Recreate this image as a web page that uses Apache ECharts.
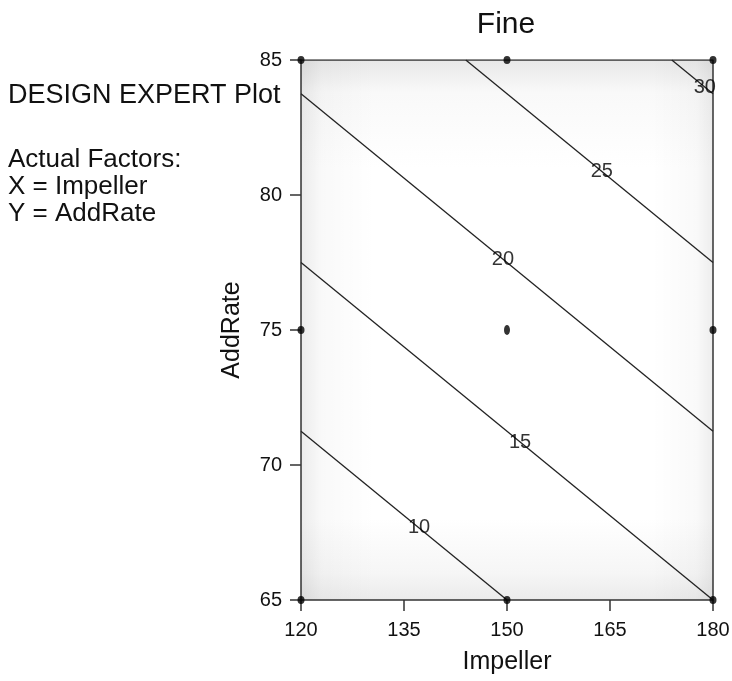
<!DOCTYPE html>
<html>
<head>
<meta charset="utf-8">
<script src="https://cdn.jsdelivr.net/npm/echarts@6/dist/echarts.min.js"></script>
<style>
  html, body { margin: 0; padding: 0; background: #ffffff; }
  #chart { width: 732px; height: 681px; }
</style>
</head>
<body>
<div id="chart"></div>
<script>
// Design points (Impeller, AddRate)
const designImpeller = [120, 150, 180, 120, 150, 180, 120, 150, 180];
const designAddRate  = [85, 85, 85, 75, 75, 75, 65, 65, 65];

// Contour levels of the "Fine" response and where each line meets the plot frame
const contourLevels = [10, 15, 20, 25, 30];
const contourStart  = [[120, 71.25], [120, 77.5], [120, 83.75], [144, 85], [174, 85]];
const contourEnd    = [[150, 65], [180, 65], [180, 71.25], [180, 77.5], [180, 83.75]];
// Label anchor on each contour line
const labelAt       = [[137.2, 67.67], [151.9, 70.85], [149.4, 77.62], [163.8, 80.87], [178.8, 84.0]];

const xTicks = [120, 135, 150, 165, 180];
const yTicks = [65, 70, 75, 80, 85];

const FONT = '"Liberation Sans", Arial, Helvetica, sans-serif';
const INK = '#111111';
const FRAME = '#333333';

const chart = echarts.init(document.getElementById('chart'), null, { renderer: 'canvas' });

const contourSeries = contourLevels.map((lvl, i) => ({
  type: 'line',
  name: 'Fine ' + lvl,
  data: [contourStart[i], contourEnd[i]],
  symbol: 'none',
  lineStyle: { color: '#222', width: 1.3 },
  silent: true,
  z: 3
}));

const option = {
  animation: false,
  backgroundColor: '#ffffff',
  grid: {
    left: 301, right: 19, top: 60, bottom: 81,
    containLabel: false,
    outerBoundsMode: 'none',
    show: true,
    borderWidth: 0,
    // soft shading toward the top and bottom edges
    backgroundColor: {
      type: 'linear', x: 0, y: 0, x2: 0, y2: 1,
      colorStops: [
        { offset: 0, color: '#e8e8e8' },
        { offset: 0.06, color: '#f9f9f9' },
        { offset: 0.2, color: '#ffffff' },
        { offset: 0.85, color: '#ffffff' },
        { offset: 0.95, color: '#f6f6f6' },
        { offset: 1, color: '#ebebeb' }
      ]
    }
  },
  xAxis: {
    type: 'value', min: xTicks[0], max: xTicks[xTicks.length - 1], interval: 15,
    name: 'Impeller', nameLocation: 'middle', nameGap: 50,
    nameTextStyle: { fontFamily: FONT, fontSize: 25, color: INK },
    axisLine: { show: true, onZero: false, lineStyle: { color: FRAME, width: 1.5 } },
    axisTick: { show: true, length: 11, lineStyle: { color: FRAME, width: 1.5 } },
    axisLabel: { fontFamily: FONT, fontSize: 20, color: INK, margin: 20 },
    splitLine: { show: false }
  },
  yAxis: {
    type: 'value', min: yTicks[0], max: yTicks[yTicks.length - 1], interval: 5,
    name: 'AddRate', nameLocation: 'middle', nameGap: 56, nameRotate: 90,
    nameTextStyle: { fontFamily: FONT, fontSize: 25, color: INK },
    axisLine: { show: true, onZero: false, lineStyle: { color: FRAME, width: 1.5 } },
    axisTick: { show: true, length: 11, lineStyle: { color: FRAME, width: 1.5 } },
    axisLabel: { fontFamily: FONT, fontSize: 20, color: INK, margin: 19 },
    splitLine: { show: false }
  },
  series: [
    // top and right frame lines, plus side shading of the plot region
    {
      type: 'line', data: [[120, 85], [180, 85], [180, 65]],
      symbol: 'none', silent: true, z: 2,
      lineStyle: { color: FRAME, width: 1.5 },
      markArea: {
        silent: true,
        itemStyle: {
          color: {
            type: 'linear', x: 0, y: 0, x2: 1, y2: 0,
            colorStops: [
              { offset: 0, color: 'rgba(0,0,0,0.08)' },
              { offset: 0.05, color: 'rgba(0,0,0,0.025)' },
              { offset: 0.18, color: 'rgba(0,0,0,0)' },
              { offset: 0.85, color: 'rgba(0,0,0,0)' },
              { offset: 0.96, color: 'rgba(0,0,0,0.025)' },
              { offset: 1, color: 'rgba(0,0,0,0.07)' }
            ]
          }
        },
        data: [[{ coord: [xTicks[0], yTicks[0]] }, { coord: [xTicks[4], yTicks[4]] }]]
      }
    },
    ...contourSeries,
    {
      type: 'scatter', name: 'labels',
      data: labelAt.map((p, i) => ({ value: p, level: contourLevels[i] })),
      symbolSize: 0, silent: true, z: 4,
      label: {
        show: true, position: 'inside',
        formatter: (p) => String(p.data.level),
        fontFamily: FONT, fontSize: 20, color: '#000',
        textBorderWidth: 0
      }
    },
    {
      type: 'scatter', name: 'design points',
      data: designImpeller.map((x, i) => [x, designAddRate[i]]),
      symbol: 'circle',
      symbolSize: (v) => (v[0] === 150 && v[1] === 75) ? [6, 10] : [7, 8],
      itemStyle: { color: '#000' },
      silent: true, z: 5
    }
  ],
  graphic: [
    { type: 'text', x: 506, y: 25, style: { text: 'Fine', fontFamily: FONT, fontSize: 30, fill: INK, textAlign: 'center', textVerticalAlign: 'middle' } },
    { type: 'text', x: 8, y: 96, style: { text: 'DESIGN EXPERT Plot', fontFamily: FONT, fontSize: 27, fill: INK, textVerticalAlign: 'middle' } },
    { type: 'text', x: 8, y: 160, style: { text: 'Actual Factors:', fontFamily: FONT, fontSize: 26, fill: INK, textVerticalAlign: 'middle' } },
    { type: 'text', x: 8, y: 187, style: { text: 'X = Impeller', fontFamily: FONT, fontSize: 26, fill: INK, textVerticalAlign: 'middle' } },
    { type: 'text', x: 8, y: 214, style: { text: 'Y = AddRate', fontFamily: FONT, fontSize: 26, fill: INK, textVerticalAlign: 'middle' } }
  ]
};

chart.setOption(option);
</script>
</body>
</html>
